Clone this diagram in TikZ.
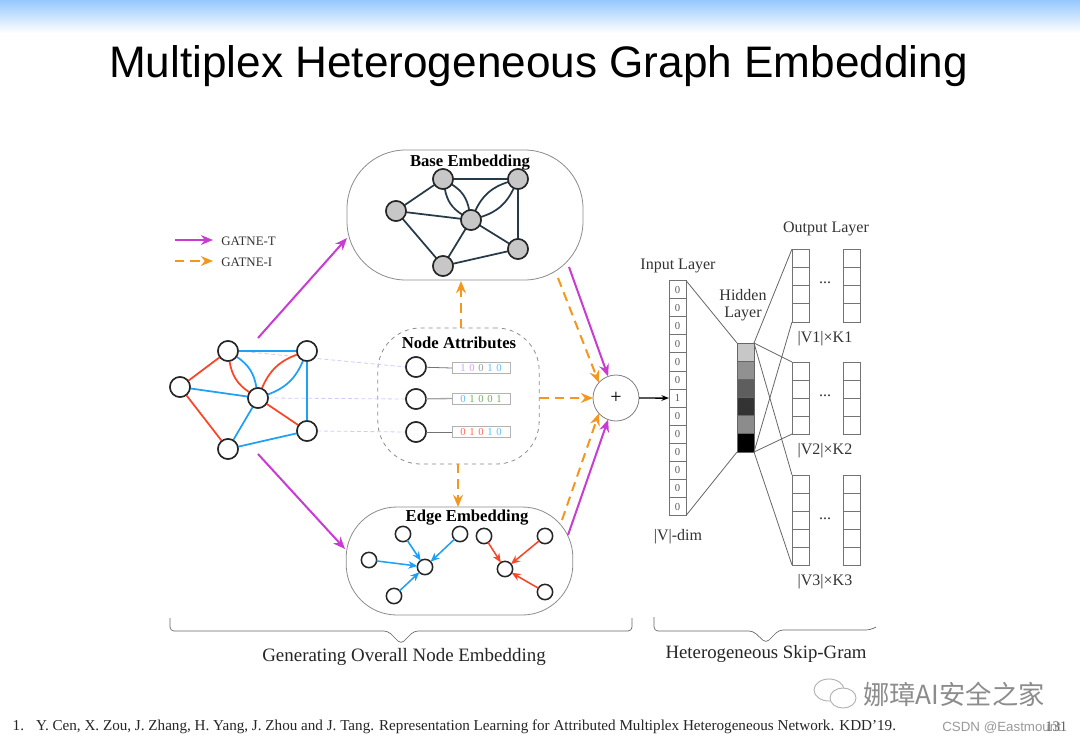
\documentclass[tikz,border=0pt]{standalone}
\usepackage{fontspec}
\setmainfont{Liberation Serif}
\newfontfamily\titlefont{Liberation Sans}
\newfontfamily\cjkfont{Noto Sans CJK SC}
\usepackage{xcolor}
\usepackage{tikz}
\usetikzlibrary{arrows.meta,positioning,calc}
\definecolor{tmagenta}{RGB}{200,60,210}
\definecolor{iorange}{RGB}{245,150,30}
\definecolor{gred}{RGB}{250,70,40}
\definecolor{gblue}{RGB}{30,160,245}
\definecolor{gdark}{RGB}{38,58,72}
\definecolor{linkviolet}{RGB}{205,205,250}
\definecolor{headblue}{RGB}{150,200,255}
\definecolor{bitviolet}{RGB}{215,160,240}
\definecolor{bitgreen}{RGB}{115,175,95}
\newcommand{\bitgap}{\hspace{2.75pt}}
\tikzset{
  plainnode/.style={circle,draw=black!85,line width=1.15pt,fill=white,minimum size=15pt,inner sep=0pt,outer sep=0pt},
  basenode/.style={plainnode,fill=black!22},
  smallnode/.style={plainnode,minimum size=11.5pt},
  panel/.style={draw=black!45,line width=0.6pt,fill=white,inner sep=0pt,outer sep=0pt},
  cell/.style={draw=black!55,line width=0.6pt,fill=white,inner sep=0pt,outer sep=0pt,minimum width=12.75pt},
  vecbox/.style={draw=black!30,line width=0.6pt,minimum width=43.5pt,minimum height=8.2pt,inner sep=0pt,outer sep=0pt,font=\fontsize{8}{8}\selectfont},
  tarrow/.style={-{Stealth[length=3.2mm,width=2.6mm]},tmagenta,line width=1.5pt},
  iarrow/.style={-{Stealth[length=3.2mm,width=2.6mm]},iorange,line width=1.5pt,dash pattern=on 7pt off 4.5pt},
  legarrow/.style={shorten >=6pt,line width=1.1pt},
  linkline/.style={linkviolet,line width=0.6pt,densely dashed},
  graphedge/.style={line width=1.3pt},
  smallarrow/.style={-{Stealth[length=2.4mm,width=2mm]},line width=1.15pt},
  legendlabel/.style={anchor=west,inner sep=0pt,text=black!80,font=\fontsize{9.7}{9.7}\selectfont},
  boxtitle/.style={font=\bfseries\fontsize{12.5}{12.5}\selectfont},
  layerlabel/.style={text=black!80,font=\fontsize{12}{12}\selectfont},
  brace/.style={draw=black!60,line width=0.5pt,rounded corners=3pt}
}
\begin{document}
\begin{tikzpicture}[x=0.75pt,y=-0.75pt,>={Stealth[length=2mm]},font=\small]
  \useasboundingbox (0,0) rectangle (1080,742);
  \fill[white] (0,0) rectangle (1080,742);
  \shade[top color=headblue,bottom color=white] (0,0) rectangle (1080,33);
  \node[font=\titlefont\fontsize{33.1}{33.1}\selectfont] (title) at (538.5,66) {Multiplex Heterogeneous Graph Embedding};

  % legend
  \coordinate (legTa) at (175,240);
  \coordinate (legIa) at (175,261);
  \node[legendlabel] (legT) at (221,241) {GATNE-T};
  \node[legendlabel] (legI) at (221,262) {GATNE-I};
  \draw[tarrow,legarrow] (legTa) -- (legT.west |- legTa);
  \draw[iarrow,legarrow] (legIa) -- (legI.west |- legIa);

  % panels
  \node[panel,rounded corners=44pt,minimum width=177pt,minimum height=97.5pt] (base) at (465,215) {};
  \node[panel,rounded corners=38pt,minimum width=170pt,minimum height=81pt] (edge) at (459.5,561) {};
  \node[panel,dashed,rounded corners=32pt,minimum width=121pt,minimum height=102pt] (attr) at (458.5,396) {};
  \node[boxtitle] (baseT) at (470,163) {Base Embedding};
  \node[boxtitle] (edgeT) at (467,518) {Edge Embedding};
  \node[boxtitle] (attrT) at (459,343) {Node Attributes};
  \node[circle,draw=black!50,line width=0.6pt,minimum size=34.5pt,inner sep=0pt,outer sep=0pt,font=\fontsize{15}{15}\selectfont] (plus) at (616,398) {+};

  % input graph
  \node[plainnode] (ga) at (180,387) {};
  \node[plainnode] (gb) at (228,351) {};
  \node[plainnode] (gc) at (307,351) {};
  \node[plainnode] (gd) at (258,398) {};
  \node[plainnode] (ge) at (307,431) {};
  \node[plainnode] (gf) at (228,449) {};
  % attributes
  \node[plainnode] (at1) at (416,367) {};
  \node[plainnode] (at2) at (416,399) {};
  \node[plainnode] (at3) at (416,432) {};
  \draw[linkline] (gb.east) -- (at1.west);
  \draw[linkline] (gd.east) -- (at2.west);
  \draw[linkline] (ge.east) -- (at3.west);
  \draw[graphedge,gred] (ga) -- (gb) (ga) -- (gf) (gd) -- (ge);
  \draw[graphedge,gred] (gb) to[bend right=24] (gd);
  \draw[graphedge,gred] (gc) to[bend right=24] (gd);
  \draw[graphedge,gblue] (gb) -- (gc) (ga) -- (gd) (gc) -- (ge) (gd) -- (gf) (gf) -- (ge);
  \draw[graphedge,gblue] (gb) to[bend left=24] (gd);
  \draw[graphedge,gblue] (gc) to[bend left=24] (gd);
  \foreach \n in {ga,gb,gc,gd,ge,gf}
    \node[plainnode] at (\n) {};
  \foreach \n in {at1,at2,at3}
    \node[plainnode] at (\n) {};

  \node[vecbox] (vec1) at (481,368) {\textcolor{bitviolet}{1}\bitgap\textcolor{bitviolet}{0}\bitgap\textcolor{black!40}{0}\bitgap\textcolor{gblue!70}{1}\bitgap\textcolor{gblue!70}{0}};
  \node[vecbox] (vec2) at (481,398.5) {\textcolor{gblue!70}{0}\bitgap\textcolor{bitgreen}{1}\bitgap\textcolor{bitgreen}{0}\bitgap\textcolor{bitgreen}{0}\bitgap\textcolor{bitgreen}{1}};
  \node[vecbox] (vec3) at (481,432) {\textcolor{gred!80}{0}\bitgap\textcolor{gred!80}{1}\bitgap\textcolor{gred!80}{0}\bitgap\textcolor{gblue!70}{1}\bitgap\textcolor{gblue!70}{0}};
  \draw[black!55,line width=0.6pt] (at1) -- (vec1.west);
  \draw[black!35,line width=1pt] (at2) -- (vec2.west);
  \draw[black!55,line width=0.6pt] (at3) -- (vec3.west);

  % base graph
  \node[basenode] (ba) at (396,211) {};
  \node[basenode] (bb) at (443,179) {};
  \node[basenode] (bc) at (518,179) {};
  \node[basenode] (bd) at (471,220) {};
  \node[basenode] (be) at (518,249) {};
  \node[basenode] (bf) at (443,266) {};
  \draw[gdark,graphedge] (ba) -- (bb) (ba) -- (bf) (bd) -- (be) (bb) -- (bc) (ba) -- (bd) (bc) -- (be) (bd) -- (bf) (bf) -- (be);
  \draw[gdark,graphedge] (bb) to[bend right=24] (bd);
  \draw[gdark,graphedge] (bc) to[bend right=24] (bd);
  \draw[gdark,graphedge] (bb) to[bend left=24] (bd);
  \draw[gdark,graphedge] (bc) to[bend left=24] (bd);
  \foreach \n in {ba,bb,bc,bd,be,bf}
    \node[basenode] at (\n) {};

  % edge embedding
  \node[smallnode] (ea) at (425,567) {};
  \node[smallnode] (eb) at (403,534) {};
  \node[smallnode] (ec) at (460,534) {};
  \node[smallnode] (ed) at (369,560) {};
  \node[smallnode] (ee) at (394,596) {};
  \node[smallnode] (fa) at (505,569) {};
  \node[smallnode] (fb) at (484,536) {};
  \node[smallnode] (fc) at (545,536) {};
  \node[smallnode] (fd) at (545,592) {};
  \foreach \n in {eb,ec,ed,ee}
    \draw[smallarrow,gblue] (\n) -- (ea);
  \foreach \n in {fb,fc,fd}
    \draw[smallarrow,gred] (\n) -- (fa);

  % arrows between the parts
  \coordinate (gUp) at (258,338);
  \coordinate (gDown) at (258,454);
  \coordinate (baseIn) at (347,238);
  \coordinate (edgeIn) at (345,549);
  \coordinate (baseOutT) at (569,267);
  \coordinate (baseOutI) at (558,278);
  \coordinate (edgeOutT) at (568,535);
  \coordinate (edgeOutI) at (562,520);
  \coordinate (attrUp) at (461,328);
  \coordinate (attrDown) at (458,464);
  \coordinate (baseBot) at (461,281);
  \coordinate (edgeTop) at (458,507);
  \draw[tarrow] (gUp) -- (baseIn);
  \draw[tarrow] (gDown) -- (edgeIn);
  \draw[tarrow] (baseOutT) -- (plus.110);
  \draw[tarrow] (edgeOutT) -- (plus.250);
  \draw[iarrow] (baseOutI) -- (plus.138);
  \draw[iarrow] (edgeOutI) -- (plus.222);
  \draw[iarrow] (attr.east |- plus.west) -- (plus.west);
  \draw[iarrow] (attrUp) -- (baseBot);
  \draw[iarrow] (attrDown) -- (edgeTop);

  % skip-gram
  \foreach \val [count=\i] in {0,0,0,0,0,0,1,0,0,0,0,0,0}
    \node[cell,minimum height=13.56pt,text=black!65,font=\fontsize{8}{8}\selectfont] (in\i) at (677.5,{280.5+(\i-0.5)*18.08}) {\val};
  \foreach \shadeval [count=\i] in {22,43,63,80,45,100}
    \node[cell,draw=black!60,minimum height=13.6pt,fill=black!\shadeval] (hid\i) at (745.5,{343+(\i-0.5)*18.17}) {};
  \foreach \lay/\ytop/\ncell/\hgt in {a/249/4/18.25,b/362/4/18,c/475/5/18}{
    \foreach \col/\xx in {l/800.5,r/851.5}{
      \foreach \i in {1,...,\ncell}
        \node[cell,minimum height=\hgt*0.75pt] (\lay\col\i) at (\xx,{\ytop+(\i-0.5)*\hgt}) {};
    }
  }
  \draw[->,black,line width=1.1pt] (plus.east) -- (in7.west);
  \draw[black!60,line width=0.6pt] (in1.north east) -- (hid1.north west);
  \draw[black!60,line width=0.6pt] (in13.south east) -- (hid6.south west);
  \draw[black!60,line width=0.6pt] (hid1.north east) -- (al1.north west);
  \draw[black!60,line width=0.6pt] (hid6.south east) -- (al4.south west);
  \draw[black!60,line width=0.6pt] (hid1.north east) -- (bl1.north west);
  \draw[black!60,line width=0.6pt] (hid6.south east) -- (bl4.south west);
  \draw[black!60,line width=0.6pt] (hid1.north east) -- (cl1.north west);
  \draw[black!60,line width=0.6pt] (hid6.south east) -- (cl5.south west);

  \node[layerlabel] (inL) at (678,266) {Input Layer};
  \node[layerlabel,align=center] (hidL) at (743,305) {Hidden\\[1pt]Layer};
  \node[layerlabel] (outL) at (826,229) {Output Layer};
  \node[layerlabel] (dimL) at (678,537) {|V|-dim};
  \node[layerlabel] (dotsA) at (825,283) {...};
  \node[layerlabel] (dotsB) at (825,396) {...};
  \node[layerlabel] (dotsC) at (825,519) {...};
  \node[layerlabel] (sizeA) at (825,339) {|V1|×K1};
  \node[layerlabel] (sizeB) at (825,451) {|V2|×K2};
  \node[layerlabel] (sizeC) at (825,582) {|V3|×K3};

  % braces
  \draw[brace] (170,618) -- (170,631) -- (388,631) -- (401,644) -- (414,631) -- (632,631) -- (632,618);
  \draw[brace] (654,617) -- (654,631) -- (753,631) -- (766,643) -- (779,630) -- (870,630) -- (876,627);
  \node[font=\fontsize{14.2}{14.2}\selectfont,text=black!85] (genL) at (404,657) {Generating Overall Node Embedding};
  \node[font=\fontsize{14.1}{14.1}\selectfont,text=black!85] (skipL) at (766,654) {Heterogeneous Skip-Gram};

  % footer
  \node[anchor=west,font=\fontsize{11.35}{11.35}\selectfont,text=black!85] (cite) at (8,727) {1.\hspace{9pt}Y. Cen, X. Zou, J. Zhang, H. Yang, J. Zhou and J. Tang. Representation Learning for Attributed Multiplex Heterogeneous Network. KDD’19.};
  \draw[black!30,line width=0.7pt] (829,690) ellipse (15 and 11);
  \draw[black!30,line width=0.7pt,fill=white] (843,698) ellipse (13 and 10);
  \node[anchor=west,inner sep=0pt,font=\cjkfont\fontsize{19.7}{19.7}\selectfont,text=black!45] (mark) at (863,694) {娜璋AI安全之家};
  \node[anchor=west,inner sep=0pt,font=\titlefont\fontsize{10}{10}\selectfont,text=black!40] (csdn) at (942,728) {CSDN @Eastmount};
  \node[anchor=west,inner sep=0pt,font=\fontsize{11}{11}\selectfont,text=black!60] (page) at (1045,727) {131};
\end{tikzpicture}
\end{document}
